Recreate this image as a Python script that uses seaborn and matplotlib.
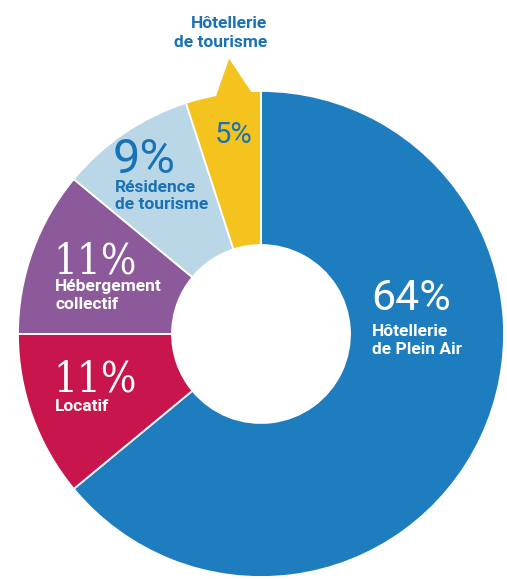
import numpy as np
import matplotlib
matplotlib.use("Agg")
import matplotlib.pyplot as plt
import seaborn as sns
sns.set_style("white")

# DATA
segments = ["Hôtellerie de Plein Air", "Locatif", "Hébergement collectif",
            "Résidence de tourisme", "Hôtellerie de tourisme"]
shares = [64, 11, 11, 9, 5]
pct_labels = ["64%", "11%", "11%", "9%", "5%"]
name_labels = [["Hôtellerie", "de Plein Air"], ["Locatif"], ["Hébergement", "collectif"],
               ["Résidence", "de tourisme"], ["Hôtellerie", "de tourisme"]]
colors = sns.color_palette(["#1e7dbe", "#c8154b", "#8c5a9b", "#b9d7e6", "#f5c31e"])
text_blue = "#1a72b6"

W, H = 507, 579
fig = plt.figure(figsize=(W / 100, H / 100), dpi=100)
ax = fig.add_axes([0, 0, 1, 1])

def Y(y):  # picture rows -> data y
    return H - y

cx, cy = 261, Y(334)
R, r_hole = 243, 89

wedges, _ = ax.pie(shares, colors=colors, startangle=90, counterclock=False,
                   center=(cx, cy), radius=R,
                   wedgeprops=dict(width=R - r_hole, edgecolor="white", linewidth=1.3))

# little arrow on top of the yellow wedge
a_mid = np.deg2rad(96.6)
a_l, a_r = np.deg2rad(100.6), np.deg2rad(92.4)
pts = [(cx + (R - 8) * np.cos(a_l), cy + (R - 8) * np.sin(a_l)),
       (cx + R * np.cos(a_l), cy + R * np.sin(a_l)),
       (cx + (R + 34) * np.cos(a_mid), cy + (R + 34) * np.sin(a_mid)),
       (cx + R * np.cos(a_r), cy + R * np.sin(a_r)),
       (cx + (R - 8) * np.cos(a_r), cy + (R - 8) * np.sin(a_r))]
ax.add_patch(plt.Polygon(pts, closed=True, facecolor=colors[4], edgecolor="none", zorder=3))

ax.set_xlim(0, W)
ax.set_ylim(0, H)
ax.set_aspect("equal")
ax.axis("off")

sans = ["Roboto", "DejaVu Sans"]
serif = ["DejaVu Serif"]
small = 12.5

def put(x, y, s, size, color, weight="normal", family=sans, ha="left", stretch="normal"):
    ax.text(x, Y(y), s, fontsize=size, color=color, fontweight=weight,
            family=family, ha=ha, va="baseline", fontstretch=stretch, zorder=5)

# 64% Hôtellerie de Plein Air
put(371, 310, pct_labels[0], 31, "white")
put(372, 336, name_labels[0][0], small, "white", "bold")
put(372, 354, name_labels[0][1], small, "white", "bold")

# Locatif
put(53, 392, pct_labels[1], 30, "white", family=serif, stretch="condensed")
put(55, 411, name_labels[1][0], small, "white", "bold")

# Hébergement collectif
put(53, 273, pct_labels[2], 30, "white", family=serif, stretch="condensed")
put(55, 291, name_labels[2][0], small, "white", "bold")
put(55, 309, name_labels[2][1], small, "white", "bold")

# Résidence de tourisme
put(113, 173, pct_labels[3], 35, text_blue)
put(115, 192, name_labels[3][0], small, text_blue, "bold")
put(115, 209, name_labels[3][1], small, text_blue, "bold")

# Hôtellerie de tourisme
put(215, 143, pct_labels[4], 21, text_blue)
put(267, 28, name_labels[4][0], small, text_blue, "bold", ha="right")
put(267, 47, name_labels[4][1], small, text_blue, "bold", ha="right")

fig.savefig("out.png", dpi=100, facecolor="white")
